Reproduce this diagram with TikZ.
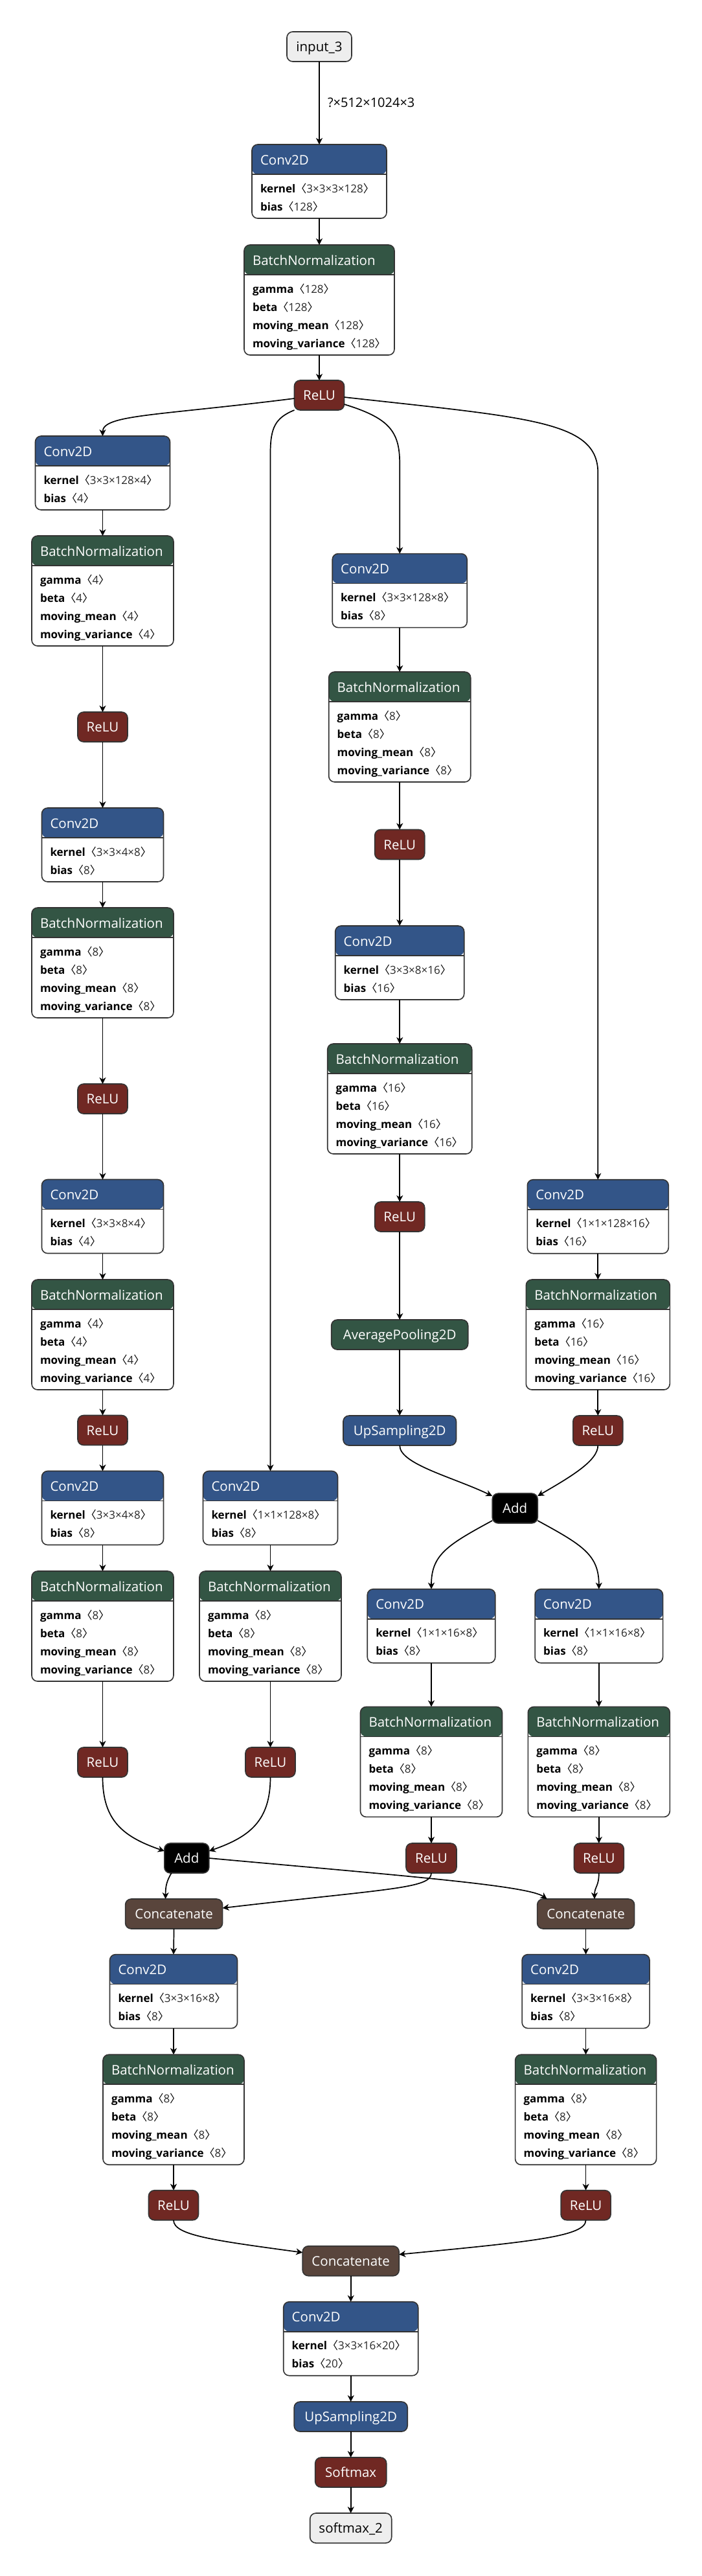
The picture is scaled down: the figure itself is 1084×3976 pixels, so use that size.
\documentclass[tikz,border=0pt]{standalone}
\usepackage{fontspec}
\setmainfont{Open Sans}
\newfontfamily\cjk{Noto Sans CJK SC}
\usetikzlibrary{arrows.meta}
\definecolor{convc}{RGB}{51,85,136}
\definecolor{bnc}{RGB}{51,85,68}
\definecolor{actc}{RGB}{112,40,35}
\definecolor{catc}{RGB}{89,69,60}
\definecolor{ioc}{RGB}{238,238,238}
\definecolor{bordc}{RGB}{51,51,51}
\newcommand\ttlfont{\fontsize{20.5pt}{24pt}\selectfont}
\newcommand\attrfont{\fontsize{17pt}{20pt}\selectfont}
\newcommand\val[1]{{\cjk 〈}{\color[RGB]{40,40,40}#1}{\cjk 〉}}
\tikzset{
  every node/.style={inner sep=0pt, outer sep=0pt},
  lbox/.style={draw=bordc, line width=1.6pt, rounded corners=9pt, fill=white, anchor=north},
  hdr/.style={path picture={
    \fill[#1] (path picture bounding box.north west) rectangle ([yshift=-46pt]path picture bounding box.north east);
    \draw[bordc, line width=1.6pt] ([yshift=-46pt]path picture bounding box.north west) -- ([yshift=-46pt]path picture bounding box.north east);}},
  simp/.style={lbox, minimum height=46pt, text height=15pt, text depth=0pt, font=\ttlfont, text=white},
  ttl/.style={font=\ttlfont, text=white, anchor=base west},
  attr/.style={font=\attrfont, text=black, anchor=base west},
  edge/.style={draw=black, line width=1.7pt, -{Stealth[length=10pt, width=10pt, inset=3pt]}},
  lblst/.style={font=\fontsize{20pt}{24pt}\selectfont, text=black}
}
\newcommand\convN[6]{%
  \node[lbox, hdr=convc, minimum width=#4pt, minimum height=114pt] (#1) at (#2,#3) {};
  \node[ttl] (#1-t) at ([shift={(13pt,-31pt)}]#1.north west) {Conv2D};
  \node[attr] (#1-a) at ([shift={(13pt,-74pt)}]#1.north west) {\textbf{kernel}\val{#5}};
  \node[attr] (#1-b) at ([shift={(13pt,-102pt)}]#1.north west) {\textbf{bias}\val{#6}};
}
\newcommand\bnN[5]{%
  \node[lbox, hdr=bnc, minimum width=#4pt, minimum height=170pt] (#1) at (#2,#3) {};
  \node[ttl] (#1-t) at ([shift={(13pt,-31pt)}]#1.north west) {BatchNormalization};
  \node[attr] (#1-a) at ([shift={(13pt,-74pt)}]#1.north west) {\textbf{gamma}\val{#5}};
  \node[attr] (#1-b) at ([shift={(13pt,-102pt)}]#1.north west) {\textbf{beta}\val{#5}};
  \node[attr] (#1-c) at ([shift={(13pt,-130pt)}]#1.north west) {\textbf{moving\_mean}\val{#5}};
  \node[attr] (#1-d) at ([shift={(13pt,-158pt)}]#1.north west) {\textbf{moving\_variance}\val{#5}};
}
\newcommand\simpleN[6]{\node[simp, fill=#5, minimum width=#4pt] (#1) at (#2,#3) {#6};}
\newcommand\ioN[5]{\node[simp, fill=ioc, text=black, minimum width=#4pt] (#1) at (#2,#3) {#5};}
\begin{document}
\begin{tikzpicture}[x=1pt, y=-1pt]
\fill[white] (0,0) rectangle (1084,3976);
\useasboundingbox (0,0) rectangle (1084,3976);
% top chain
\ioN{inp}{493}{49}{100}{input\_3}
\convN{c1}{493}{223}{208}{3×3×3×128}{128}
\bnN{b1}{493}{378}{232}{128}
\simpleN{r1}{493}{587}{77}{actc}{ReLU}
% column 1
\convN{ca1}{158.5}{673}{208}{3×3×128×4}{4}
\bnN{ba1}{158.5}{827}{219}{4}
\simpleN{ra1}{158.5}{1099}{77}{actc}{ReLU}
\convN{ca2}{158.5}{1247}{188}{3×3×4×8}{8}
\bnN{ba2}{158.5}{1401}{219}{8}
\simpleN{ra2}{158.5}{1673}{77}{actc}{ReLU}
\convN{ca3}{158.5}{1820.5}{188}{3×3×8×4}{4}
\bnN{ba3}{158.5}{1975}{219}{4}
\simpleN{ra3}{158.5}{2184.5}{77}{actc}{ReLU}
\convN{ca4}{158.5}{2270.5}{188}{3×3×4×8}{8}
\bnN{ba4}{158.5}{2425}{219}{8}
\simpleN{ra4}{158.5}{2697}{77}{actc}{ReLU}
% column 2
\convN{cb1}{417.5}{2270.5}{208}{1×1×128×8}{8}
\bnN{bb1}{417.5}{2425}{219}{8}
\simpleN{rb1}{417.5}{2697}{77}{actc}{ReLU}
% column 3
\convN{cc1}{617.2}{854.6}{208}{3×3×128×8}{8}
\bnN{bc1}{617.2}{1037}{219}{8}
\simpleN{rc1}{617.2}{1280.5}{77}{actc}{ReLU}
\convN{cc2}{617.2}{1429}{199}{3×3×8×16}{16}
\bnN{bc2}{617.2}{1611}{223}{16}
\simpleN{rc2}{617.2}{1855}{77}{actc}{ReLU}
\simpleN{ap}{617.2}{2037}{211}{bnc}{AveragePooling2D}
\simpleN{up}{617.2}{2185}{174.5}{convc}{UpSampling2D}
% column 4
\convN{cd1}{923.3}{1820.7}{218}{1×1×128×16}{16}
\bnN{bd1}{923.3}{1975}{222}{16}
\simpleN{rd1}{923.3}{2185}{77}{actc}{ReLU}
% add 1 and its branches
\simpleN{add1}{795.2}{2305}{70}{black}{Add}
\convN{ce1}{666}{2452.7}{197.5}{1×1×16×8}{8}
\bnN{be1}{666}{2634.4}{219}{8}
\simpleN{re1}{666}{2845}{78}{actc}{ReLU}
\convN{cf1}{924.8}{2452.7}{197.5}{1×1×16×8}{8}
\bnN{bf1}{924.8}{2634.4}{219}{8}
\simpleN{rf1}{924.8}{2845}{77}{actc}{ReLU}
% add 2 and concatenations
\simpleN{add2}{288.3}{2845}{69}{black}{Add}
\simpleN{cl}{268.6}{2931}{150}{catc}{Concatenate}
\simpleN{cr}{904.6}{2931}{150}{catc}{Concatenate}
\convN{cg1}{268}{3016.6}{197}{3×3×16×8}{8}
\bnN{bg1}{268}{3171.2}{218}{8}
\simpleN{rg1}{268}{3380.7}{77}{actc}{ReLU}
\convN{ch1}{904.6}{3016.6}{197}{3×3×16×8}{8}
\bnN{bh1}{904.6}{3171.2}{218}{8}
\simpleN{rh1}{904.6}{3380.7}{77}{actc}{ReLU}
\simpleN{cfin}{541.7}{3466.7}{149}{catc}{Concatenate}
\convN{cz}{541.7}{3552.7}{208}{3×3×16×20}{20}
\simpleN{upz}{541.7}{3707}{175}{convc}{UpSampling2D}
\simpleN{sm}{541.7}{3793}{110}{actc}{Softmax}
\ioN{outp}{541.7}{3879}{126}{softmax\_2}
% straight edges
\foreach \a/\b in {inp/c1, c1/b1, b1/r1, ca1/ba1, ba1/ra1, ra1/ca2, ca2/ba2, ba2/ra2, ra2/ca3, ca3/ba3, ba3/ra3, ra3/ca4, ca4/ba4, ba4/ra4, cb1/bb1, bb1/rb1, cc1/bc1, bc1/rc1, rc1/cc2, cc2/bc2, bc2/rc2, rc2/ap, ap/up, cd1/bd1, bd1/rd1, ce1/be1, be1/re1, cf1/bf1, bf1/rf1, cl/cg1, cg1/bg1, bg1/rg1, cr/ch1, ch1/bh1, bh1/rh1, cfin/cz, cz/upz, upz/sm, sm/outp}
  \draw[edge] (\a.south) -- (\b.north);
\node[lblst, anchor=west] (lbl) at (506,158) {?×512×1024×3};
% curved edges
\draw[edge] ([yshift=-5pt]r1.west) .. controls (240,642) and (158.5,640) .. (ca1.north);
\draw[edge] (r1.south west) .. controls (425,645) and (417.5,660) .. (417.5,700) -- (cb1.north);
\draw[edge] ([yshift=-14pt]r1.east) .. controls (600,645) and (617.2,665) .. (617.2,715) -- (cc1.north);
\draw[edge] ([yshift=-3pt]r1.east) .. controls (820,645) and (923.3,650) .. (923.3,730) -- (cd1.north);
\draw[edge] (up.south) .. controls (617.2,2260) and (700,2280) .. ([yshift=-4pt]add1.north west);
\draw[edge] (rd1.south) .. controls (923.3,2255) and (880,2280) .. ([yshift=-4pt]add1.north east);
\draw[edge] ([yshift=4pt]add1.south west) .. controls (690,2385) and (666,2400) .. (ce1.north);
\draw[edge] ([yshift=4pt]add1.south east) .. controls (900,2385) and (924.8,2400) .. (cf1.north);
\draw[edge] (ra4.south) .. controls (158.5,2810) and (190,2835) .. ([yshift=-12pt]add2.north west);
\draw[edge] (rb1.south) .. controls (417.5,2810) and (386,2835) .. ([yshift=-12pt]add2.north east);
\draw[edge] ([xshift=11pt]add2.south west) .. controls (256,2905) and (255.6,2915) .. ([xshift=-13pt]cl.north);
\draw[edge] (add2.east) .. controls (620,2895) and (815,2910) .. ([xshift=-60pt]cr.north);
\draw[edge] (re1.south) .. controls (666,2915) and (600,2915) .. ([yshift=-14pt]cl.north east);
\draw[edge] (rf1.south) .. controls (924.8,2912) and (918,2912) .. ([xshift=13.4pt]cr.north);
\draw[edge] (rg1.south) .. controls (268,3450) and (330,3458) .. ([yshift=-10pt]cfin.north west);
\draw[edge] (rh1.south) .. controls (904.6,3452) and (820,3460) .. ([yshift=-13pt]cfin.north east);
\end{tikzpicture}
\end{document}
